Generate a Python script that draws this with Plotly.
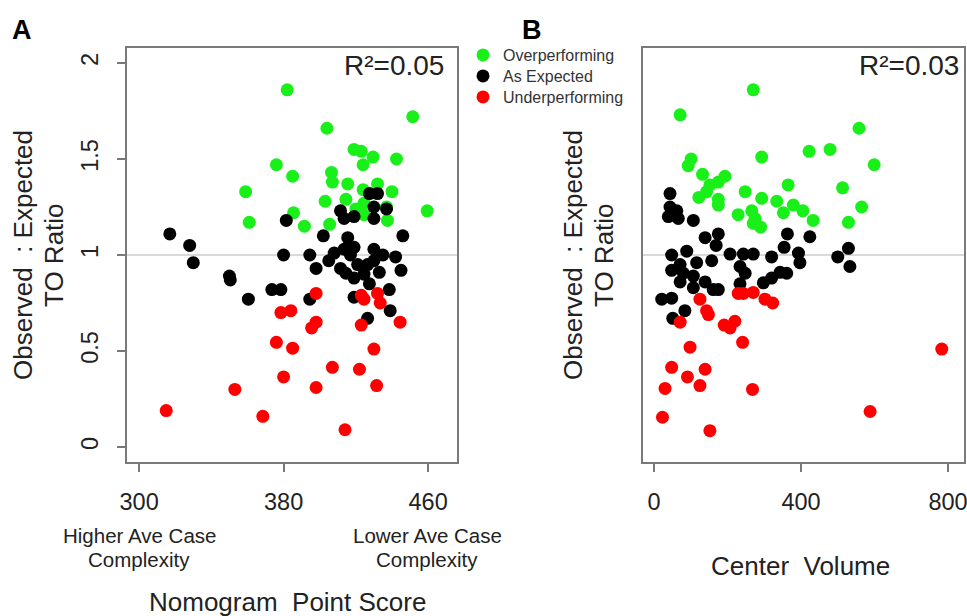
import plotly.graph_objects as go

# ---------------- Panel A: Nomogram Point Score ----------------
a_over_x = [382, 451.5, 404, 419, 423, 429.5, 442.5, 376, 424, 385, 406.5, 407, 415.5, 432, 424,
            359, 440, 414.5, 403, 424.5, 420, 437, 459.5, 385.5, 424.5, 437.5, 361, 391.5, 405.5]
a_over_y = [1.86, 1.72, 1.66, 1.55, 1.54, 1.51, 1.50, 1.47, 1.47, 1.41, 1.43, 1.38, 1.37, 1.37, 1.34,
            1.33, 1.33, 1.29, 1.28, 1.27, 1.24, 1.25, 1.23, 1.22, 1.21, 1.18, 1.17, 1.15, 1.16]

a_exp_x = [317, 328, 330, 381.5, 402, 411.5, 419, 413.5, 427.5, 432, 430, 430, 437, 446, 415.5,
           415.5, 380, 394.5, 398, 408, 405, 413.5, 419, 417, 411.5, 414.5, 421, 419, 426.5, 424.5,
           427.5, 430, 430, 435, 433, 442, 445, 350.5, 350, 373.5, 378.5, 360.5, 394.5, 419, 438.5,
           439, 426.5]
a_exp_y = [1.11, 1.05, 0.96, 1.18, 1.10, 1.23, 1.20, 1.19, 1.32, 1.32, 1.25, 1.19, 1.24, 1.10, 1.09,
           1.04, 1.00, 1.00, 0.93, 1.01, 0.97, 1.03, 1.04, 1.00, 0.93, 0.905, 0.95, 0.88, 0.95, 0.90,
           0.85, 1.03, 0.97, 1.00, 0.91, 0.99, 0.92, 0.87, 0.89, 0.82, 0.82, 0.77, 0.77, 0.78, 0.82,
           0.71, 0.67]

a_under_x = [398, 423, 424.5, 432, 433.5, 378.5, 384, 398, 395.5, 423, 444.5, 376, 385, 430, 407,
             422, 380, 353, 398, 431.5, 315, 368.5, 414]
a_under_y = [0.80, 0.79, 0.77, 0.80, 0.75, 0.70, 0.71, 0.65, 0.62, 0.635, 0.65, 0.545, 0.515, 0.51, 0.415,
             0.405, 0.365, 0.30, 0.31, 0.32, 0.19, 0.16, 0.09]

# ---------------- Panel B: Center Volume ----------------
b_over_x = [270, 71, 558, 422, 479, 293, 101, 93, 599, 132, 193, 175, 152, 365, 513, 143, 248, 122,
            293, 175, 334, 175, 379, 405, 565, 229, 266, 352, 275, 433, 270, 290, 529]
b_over_y = [1.86, 1.73, 1.66, 1.54, 1.55, 1.51, 1.50, 1.465, 1.47, 1.42, 1.41, 1.38, 1.365, 1.365, 1.35,
            1.33, 1.33, 1.30, 1.295, 1.29, 1.28, 1.26, 1.26, 1.23, 1.25, 1.21, 1.23, 1.22, 1.19, 1.18,
            1.165, 1.145, 1.17]

b_exp_x = [43.5, 43.5, 62, 39, 66, 107, 139, 175, 169, 363, 424, 354, 529, 48, 89, 157, 207, 243, 270,
           320, 393, 397, 500, 533, 48, 71, 116, 80, 107, 71, 107, 139, 161, 175, 234, 248, 234, 297.5,
           320, 343, 361, 21, 48, 84, 51]
b_exp_y = [1.32, 1.25, 1.23, 1.20, 1.19, 1.18, 1.09, 1.11, 1.05, 1.11, 1.095, 1.04, 1.035, 1.00, 1.02,
           0.97, 1.005, 1.005, 1.005, 0.99, 1.01, 0.96, 0.99, 0.94, 0.92, 0.95, 0.96, 0.905, 0.89, 0.86,
           0.83, 0.86, 0.82, 0.82, 0.94, 0.905, 0.85, 0.855, 0.88, 0.91, 0.905, 0.77, 0.775, 0.71, 0.67]

b_under_x = [125, 143, 148, 71, 229, 243, 270, 302, 323, 191, 207, 220, 241, 98, 48, 139, 91, 30, 125,
             268, 783, 588, 23, 152]
b_under_y = [0.77, 0.71, 0.69, 0.65, 0.80, 0.80, 0.805, 0.77, 0.75, 0.635, 0.62, 0.655, 0.545, 0.52, 0.415,
             0.405, 0.365, 0.305, 0.32, 0.30, 0.51, 0.185, 0.155, 0.085]

group_names = ["Overperforming", "As Expected", "Underperforming"]
group_colors = ["#19f019", "#000000", "#ff0000"]

a_xticks = [300, 380, 460]
b_xticks = [0, 400, 800]
y_ticks = [0, 0.5, 1, 1.5, 2]
y_ticktext = ["0", "0.5", "1", "1.5", "2"]

FONT = "Liberation Sans, Arial, sans-serif"
TXT = "#222222"
AX = "#7a7a7a"
W, H = 967, 616

fig = go.Figure()

a_sets = [(a_over_x, a_over_y), (a_exp_x, a_exp_y), (a_under_x, a_under_y)]
b_sets = [(b_over_x, b_over_y), (b_exp_x, b_exp_y), (b_under_x, b_under_y)]
legend_ids = ["legend", "legend2", "legend3"]

for (xs, ys), name, col, lg in zip(a_sets, group_names, group_colors, legend_ids):
    fig.add_trace(go.Scatter(x=xs, y=ys, mode="markers", name=name,
                             marker=dict(color=col, size=13, line=dict(width=0)),
                             xaxis="x", yaxis="y", showlegend=True, legend=lg))
for (xs, ys), name, col in zip(b_sets, group_names, group_colors):
    fig.add_trace(go.Scatter(x=xs, y=ys, mode="markers", name=name,
                             marker=dict(color=col, size=13, line=dict(width=0)),
                             xaxis="x2", yaxis="y2", showlegend=False))

axis_common = dict(showgrid=False, zeroline=False, showline=True, mirror=True, automargin=False,
                   linecolor=AX, linewidth=2, ticks="outside", ticklen=8, tickwidth=1.5,
                   tickcolor=AX, ticklabeloverflow="allow",
                   tickfont=dict(family=FONT, size=23.5, color=TXT))

def legend_at(y_px):
    return dict(x=463 / W, y=1 - y_px / H, xanchor="left", yanchor="middle",
                font=dict(family=FONT, size=16, color="#333333"),
                bgcolor="rgba(0,0,0,0)", itemwidth=30)

fig.update_layout(
    width=W, height=H,
    margin=dict(l=0, r=0, t=0, b=0, autoexpand=False),
    paper_bgcolor="white", plot_bgcolor="white",
    font=dict(family=FONT, color=TXT),
    xaxis=dict(domain=[127 / W, 457 / W], range=[293.3, 476], tickvals=a_xticks,
               anchor="y", ticklabelstandoff=10, **axis_common),
    yaxis=dict(domain=[1 - 462 / H, 1 - 48 / H], range=[-0.078, 2.078], tickvals=y_ticks,
               ticktext=y_ticktext, tickangle=-90, anchor="x", ticklabelstandoff=10, **axis_common),
    xaxis2=dict(domain=[643 / W, 964 / W], range=[-30, 843.5], tickvals=b_xticks,
                anchor="y2", ticklabelstandoff=10, **axis_common),
    yaxis2=dict(domain=[1 - 462 / H, 1 - 48 / H], range=[-0.078, 2.078], anchor="x2",
                automargin=False, showgrid=False, zeroline=False, showline=True, mirror=True,
                linecolor=AX, linewidth=2, ticks="", showticklabels=False),
    legend=legend_at(55),
    legend2=legend_at(76),
    legend3=legend_at(97),
    showlegend=True,
)

# reference lines at ratio = 1
for xr, yr in [("x domain", "y"), ("x2 domain", "y2")]:
    fig.add_shape(type="line", xref=xr, yref=yr, x0=0, x1=1, y0=1, y1=1,
                  line=dict(color="#cccccc", width=1.5), layer="below")

def ann(text, x, y, size, xanchor="center", angle=0, bold=False, color=TXT):
    fig.add_annotation(text=f"<b>{text}</b>" if bold else text, x=x / W, y=1 - y / H,
                       xref="paper", yref="paper", showarrow=False, xanchor=xanchor,
                       yanchor="middle", textangle=angle,
                       font=dict(family=FONT, size=size, color=color))

ann("A", 22, 30, 27, bold=True, color="#000000")
ann("B", 532, 30, 27, bold=True, color="#000000")
ann("R²=0.05", 446, 66, 28, xanchor="right")
ann("R²=0.03", 961, 66, 28, xanchor="right")
ann("Observed  : Expected", 23, 255, 26, angle=-90)
ann("TO Ratio", 54, 255, 26, angle=-90)
ann("Observed  : Expected", 573, 255, 26, angle=-90)
ann("TO Ratio", 604, 255, 26, angle=-90)
ann("Higher Ave Case", 139, 535, 20.5)
ann("Complexity", 139, 559, 20.5)
ann("Lower Ave Case", 427, 535, 20.5)
ann("Complexity", 427, 559, 20.5)
ann("Nomogram  Point Score", 287, 602, 26)
ann("Center  Volume", 800, 566, 26)

fig.write_html("out.html", config={"displayModeBar": False},
               post_script="document.body.style.margin='0';document.body.style.overflow='hidden';")
